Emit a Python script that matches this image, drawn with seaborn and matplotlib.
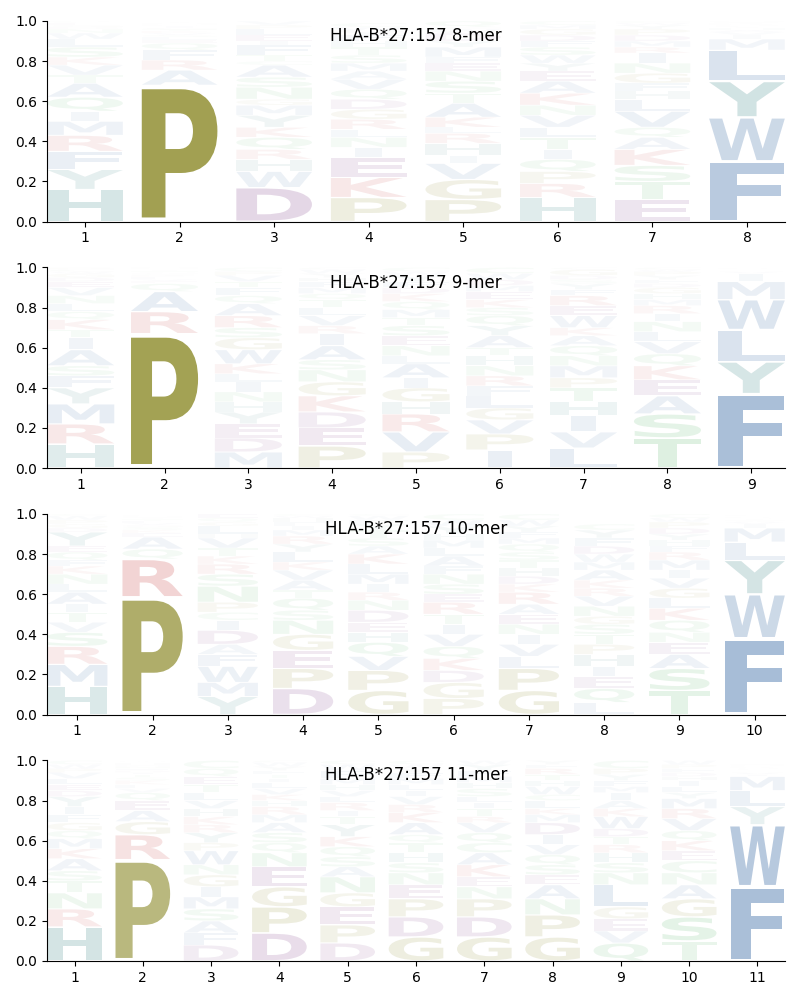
import matplotlib
matplotlib.use("Agg")
import matplotlib.pyplot as plt
import seaborn as sns
from matplotlib.textpath import TextPath
from matplotlib.patches import PathPatch
from matplotlib.font_manager import FontProperties
from matplotlib.transforms import Affine2D

# letters are listed bottom -> top for each position, heights are frequencies
titles = ["HLA-B*27:157 8-mer", "HLA-B*27:157 9-mer", "HLA-B*27:157 10-mer", "HLA-B*27:157 11-mer"]

mer8_letters = [
    "HYFRMIQATVKSLWNDGECP", "PARFQELSVKTGIDMNHYWC", "DWHRQKYMGNSACTFIELPV",
    "PKEINLRGDQVAMSTHFYWC", "PGVIHRLKATSNEFMYDWCQ", "HRPQITLVNKAEYWSFDGMC",
    "ETSKAQVLHFGNIRMDPYWC", "FWYLMIVAHTCQRKSNEDGP",
]
mer8_heights = [
    [.16, .10, .09, .08, .07, .05, .07, .07, .04, .05, .04, .05, .04, .03, .02, .01, .01, .01, .005, .005],
    [.68, .075, .05, .05, .035, .015, .015, .01, .01, .01, .008, .008, .007, .005, .005, .005, .004, .004, .002, .002],
    [.17, .08, .06, .05, .06, .05, .06, .05, .03, .06, .05, .06, .02, .03, .05, .02, .03, .03, .02, .02],
    [.12, .10, .10, .05, .05, .04, .05, .05, .05, .05, .05, .04, .04, .04, .04, .03, .03, .02, .02, .02],
    [.11, .10, .08, .04, .06, .05, .03, .05, .07, .05, .06, .05, .04, .03, .05, .03, .04, .02, .01, .03],
    [.12, .07, .06, .06, .05, .06, .05, .06, .05, .06, .06, .05, .04, .04, .04, .03, .03, .03, .02, .02],
    [.11, .09, .08, .08, .06, .05, .08, .06, .04, .04, .05, .05, .05, .03, .03, .03, .03, .02, .01, .01],
    [.30, .22, .18, .155, .055, .02, .015, .01, .01, .005, .005, .005, .005, .005, .005, .003, .003, .003, .003, .003],
]

mer9_letters = [
    "HRMYFSAITKQLNVEDGWCP", "PRAQEVLKSGTIFMNDHYWC", "MDEYHNILKWGSRAQFTVPC",
    "PEDKGNSAIRVLTQMFHYWC", "PVRHGIALNESTMQKDFYWC", "IPVGLFRNHTAYQSKEMDWC",
    "LVIHTPMNQAKWERFYSDGC", "TSAEKQVLNIRMHGDFYPWC", "FYLWMIVAHCRTKQSNEDGP",
]
mer9_heights = [
    [.12, .10, .10, .08, .06, .05, .08, .06, .04, .05, .04, .04, .04, .04, .03, .02, .02, .01, .01, .01],
    [.67, .11, .10, .04, .012, .01, .01, .008, .008, .007, .006, .005, .004, .003, .003, .002, .002, .002, .001, .001],
    [.08, .07, .07, .06, .05, .05, .05, .04, .05, .07, .06, .05, .06, .06, .04, .04, .03, .03, .02, .02],
    [.11, .09, .08, .08, .07, .06, .05, .07, .06, .04, .05, .04, .04, .03, .03, .03, .02, .02, .02, .01],
    [.08, .10, .09, .06, .07, .05, .07, .04, .05, .05, .05, .04, .04, .04, .04, .03, .03, .03, .02, .02],
    [.09, .08, .07, .06, .06, .05, .05, .05, .05, .04, .06, .05, .05, .04, .04, .04, .03, .03, .03, .03],
    [.10, .08, .08, .07, .07, .05, .06, .05, .05, .05, .04, .06, .05, .05, .03, .03, .02, .02, .03, .01],
    [.15, .12, .09, .08, .07, .06, .06, .05, .05, .04, .04, .03, .03, .03, .02, .02, .02, .02, .01, .01],
    [.37, .16, .16, .15, .09, .04, .01, .005, .005, .003, .003, .002, .002, .002, .002, .001, .001, .001, .001, .001],
]

mer10_letters = [
    "HMRSVTIALNKFQEYDGPWC", "PRQAEKSGVLTIFMNDHYWC", "YMWFADICPNSRKTVHLGQE",
    "DPEGNSQTAVKLYRMIFHWC", "GPVQHEDNRIMLKASTYFWC", "PGDKQVITRESNFALMHYWC",
    "GPLVINEARKDHTSQMFYWC", "LQEIHPTSGNVRKAMWDFYC", "TSAENQKLGVIMRFHYDPWC",
    "FWYLMIVAHTCQRKSNEDGP",
]
mer10_heights = [
    [.14, .11, .09, .07, .05, .05, .04, .06, .04, .05, .04, .03, .04, .03, .07, .02, .02, .02, .02, .01],
    [.585, .19, .05, .06, .02, .015, .015, .01, .01, .01, .008, .005, .005, .004, .004, .003, .002, .002, .001, .001],
    [.09, .07, .08, .06, .05, .07, .05, .04, .05, .08, .06, .05, .04, .04, .05, .02, .04, .02, .02, .02],
    [.13, .10, .09, .08, .07, .05, .06, .04, .05, .05, .04, .05, .04, .04, .03, .02, .02, .02, .01, .01],
    [.12, .10, .07, .07, .05, .05, .06, .05, .04, .04, .05, .05, .05, .04, .04, .04, .03, .02, .02, .01],
    [.08, .08, .06, .06, .06, .06, .05, .05, .06, .04, .05, .05, .04, .05, .04, .04, .03, .04, .03, .03],
    [.12, .11, .06, .06, .05, .05, .05, .05, .06, .04, .04, .04, .04, .04, .04, .03, .03, .03, .03, .03],
    [.06, .07, .06, .05, .06, .05, .05, .05, .04, .05, .05, .04, .04, .05, .04, .04, .04, .04, .04, .03],
    [.12, .11, .07, .06, .05, .06, .06, .05, .05, .05, .04, .05, .04, .03, .03, .03, .03, .03, .02, .02],
    [.38, .22, .17, .09, .07, .02, .01, .005, .005, .004, .003, .003, .003, .003, .003, .002, .002, .002, .002, .002],
]

mer11_letters = [
    "HRNTSAKMQGFIYDELVPWC", "PRGAEQVLKSTIDFNMHYWC", "DFASMIGNWPYRKHVLTEQC",
    "DPGENQSAMRHKVLITFYWC", "DPEGNASQKYTIRLVHMFWC", "GDPENSHTQAKRVILMFYWC",
    "GDPNEKACQVRTILSHMFYW", "GPNAESQVIDMKLCWHTRFY", "QVEGLNSHRTDWKAIMFYPC",
    "TSGANCEKQVRMYLIHDFPW", "FWYLMIVAHTCQRKSNEDGP",
]
mer11_heights = [
    [.17, .09, .08, .06, .05, .06, .05, .05, .04, .04, .04, .04, .05, .03, .03, .03, .03, .02, .02, .02],
    [.505, .125, .065, .055, .05, .04, .02, .02, .02, .015, .015, .01, .01, .01, .01, .008, .007, .005, .005, .005],
    [.08, .06, .06, .06, .06, .05, .06, .05, .07, .04, .05, .04, .04, .04, .04, .04, .04, .04, .04, .04],
    [.14, .13, .10, .10, .07, .05, .05, .05, .04, .04, .03, .03, .03, .03, .02, .02, .02, .02, .02, .01],
    [.09, .09, .09, .07, .08, .05, .05, .05, .05, .06, .04, .03, .04, .03, .03, .03, .03, .04, .03, .02],
    [.12, .10, .09, .07, .06, .05, .05, .05, .04, .06, .05, .04, .04, .03, .03, .03, .03, .02, .02, .02],
    [.12, .10, .09, .06, .05, .06, .06, .05, .05, .05, .03, .04, .03, .03, .04, .03, .03, .03, .03, .02],
    [.12, .11, .08, .07, .05, .05, .05, .05, .05, .06, .04, .03, .04, .03, .04, .03, .03, .03, .02, .02],
    [.09, .06, .06, .06, .11, .06, .05, .05, .04, .04, .04, .06, .04, .04, .04, .03, .03, .03, .03, .04],
    [.10, .12, .09, .07, .06, .06, .05, .05, .05, .06, .05, .05, .03, .03, .03, .02, .02, .02, .02, .02],
    [.37, .31, .09, .08, .07, .01, .01, .005, .005, .004, .004, .004, .004, .004, .004, .003, .003, .003, .003, .003],
]

all_letters = [mer8_letters, mer9_letters, mer10_letters, mer11_letters]
all_heights = [mer8_heights, mer9_heights, mer10_heights, mer11_heights]

# residue colour groups
group_colors = {
    "AVLIMFW": "#195296",
    "HY": "#006464",
    "KR": "#be1e1e",
    "DE": "#64146e",
    "STNQC": "#28a03c",
    "PG": "#767400",
}
aa_color = {}
for aas, col in group_colors.items():
    for aa in aas:
        aa_color[aa] = col

letter_width = 0.8
vpad = 0.06

font = FontProperties(family="DejaVu Sans", weight="bold")
_paths = {}


def glyph(c):
    if c not in _paths:
        _paths[c] = TextPath((0, 0), c, size=1, prop=font)
    return _paths[c]


max_stretch = letter_width / glyph("E").get_extents().width


def draw_letter(ax, c, x, y0, h):
    path = glyph(c)
    ext = path.get_extents()
    sx = min(letter_width / ext.width, max_stretch)
    w = ext.width * sx
    sy = h * (1 - vpad) / ext.height
    tr = Affine2D().translate(-ext.x0, -ext.y0).scale(sx, sy).translate(x - w / 2, y0 + h * vpad / 2)
    patch = PathPatch(tr.transform_path(path), facecolor=aa_color[c], edgecolor="none",
                      linewidth=0, alpha=max(0.0, min(h, 1.0)))
    ax.add_patch(patch)


plt.rcParams["font.family"] = ["DejaVu Sans"]
fig, axes = plt.subplots(4, 1, figsize=(8, 10), dpi=100)
fig.subplots_adjust(left=0.059, right=0.981, top=0.979, bottom=0.039, hspace=0.229)

for ax, title, letters, heights in zip(axes, titles, all_letters, all_heights):
    n = len(letters)
    for i in range(n):
        y = 0.0
        for c, h in zip(letters[i], heights[i]):
            draw_letter(ax, c, i + 1, y, h)
            y += h
    ax.set_xlim(1 - letter_width / 2, n + letter_width / 2)
    ax.set_ylim(0, 1)
    ax.set_xticks(range(1, n + 1))
    ax.set_yticks([0, 0.2, 0.4, 0.6, 0.8, 1.0])
    ax.text(0.5, 0.925, title, transform=ax.transAxes, ha="center", va="center",
            fontsize=12, zorder=10)
    sns.despine(ax=ax)

fig.savefig("out.png", dpi=100)
